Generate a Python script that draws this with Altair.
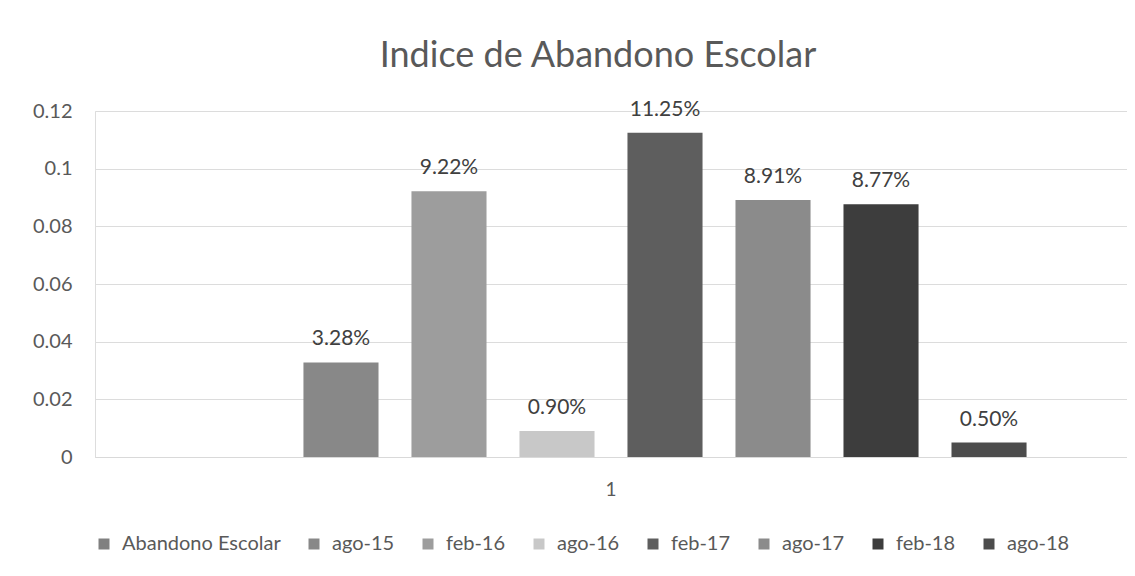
import altair as alt
import pandas as pd

# ---- data ----
series = ["Abandono Escolar", "ago-15", "feb-16", "ago-16", "feb-17", "ago-17", "feb-18", "ago-18"]
values = [None, 0.0328, 0.0922, 0.0090, 0.1125, 0.0891, 0.0877, 0.0050]
category = ["1"] * len(series)
colors = ["#808080", "#888888", "#9d9d9d", "#c8c8c8", "#5e5e5e", "#8b8b8b", "#3d3d3d", "#4c4c4c"]
y_ticks = [0, 0.02, 0.04, 0.06, 0.08, 0.1, 0.12]

df = pd.DataFrame({"cat": category, "serie": series, "valor": values})

FONT = "Lato"

base = alt.Chart(df).encode(
    x=alt.X(
        "cat:N",
        title=None,
        scale=alt.Scale(paddingInner=0, paddingOuter=0),
        axis=alt.Axis(labelAngle=0, ticks=False, domain=True, domainColor="#d9d9d9",
                      labelFontSize=19, labelColor="#595959", labelPadding=23, labelFont=FONT),
    ),
    xOffset=alt.XOffset("serie:N", scale=alt.Scale(domain=series, paddingInner=0.305, paddingOuter=0.93)),
    y=alt.Y(
        "valor:Q",
        title=None,
        scale=alt.Scale(domain=[0, 0.12], nice=False),
        axis=alt.Axis(values=y_ticks, labelExpr="format(datum.value, '~g')", ticks=False, domain=False,
                      gridColor="#dcdcdc", labelFontSize=20, labelColor="#595959", labelPadding=23,
                      labelFont=FONT),
    ),
)

bars = base.mark_bar().encode(
    color=alt.Color(
        "serie:N",
        scale=alt.Scale(domain=series, range=colors),
        legend=alt.Legend(
            title=None, orient="none", direction="horizontal", legendX=-1, legendY=423,
            symbolType="square", symbolSize=121, symbolStrokeWidth=0, labelFontSize=20,
            labelColor="#595959", labelFont=FONT, columnPadding=23, labelOffset=8,
            labelLimit=400, columns=8,
        ),
    )
)

labels = base.transform_filter("isValid(datum.valor)").mark_text(
    dy=-17, baseline="alphabetic", fontSize=21, color="#404040", font=FONT
).encode(text=alt.Text("valor:Q", format=".2%"))

chart = (
    alt.layer(bars, labels)
    .properties(
        width=1032,
        height=346,
        autosize=alt.AutoSizeParams(type="none"),
        padding={"left": 87, "top": 103, "right": 0, "bottom": 100},
        title=alt.Title("Indice de Abandono Escolar", fontSize=36, font=FONT, fontWeight="normal",
                        color="#595959", anchor="middle", offset=24, dx=-13),
    )
    .configure_view(fill="#f7f7f7", stroke="#e6e6e6")
    .configure(background="white")
)

chart.save("out.html", embed_options={"renderer": "svg", "actions": False})
